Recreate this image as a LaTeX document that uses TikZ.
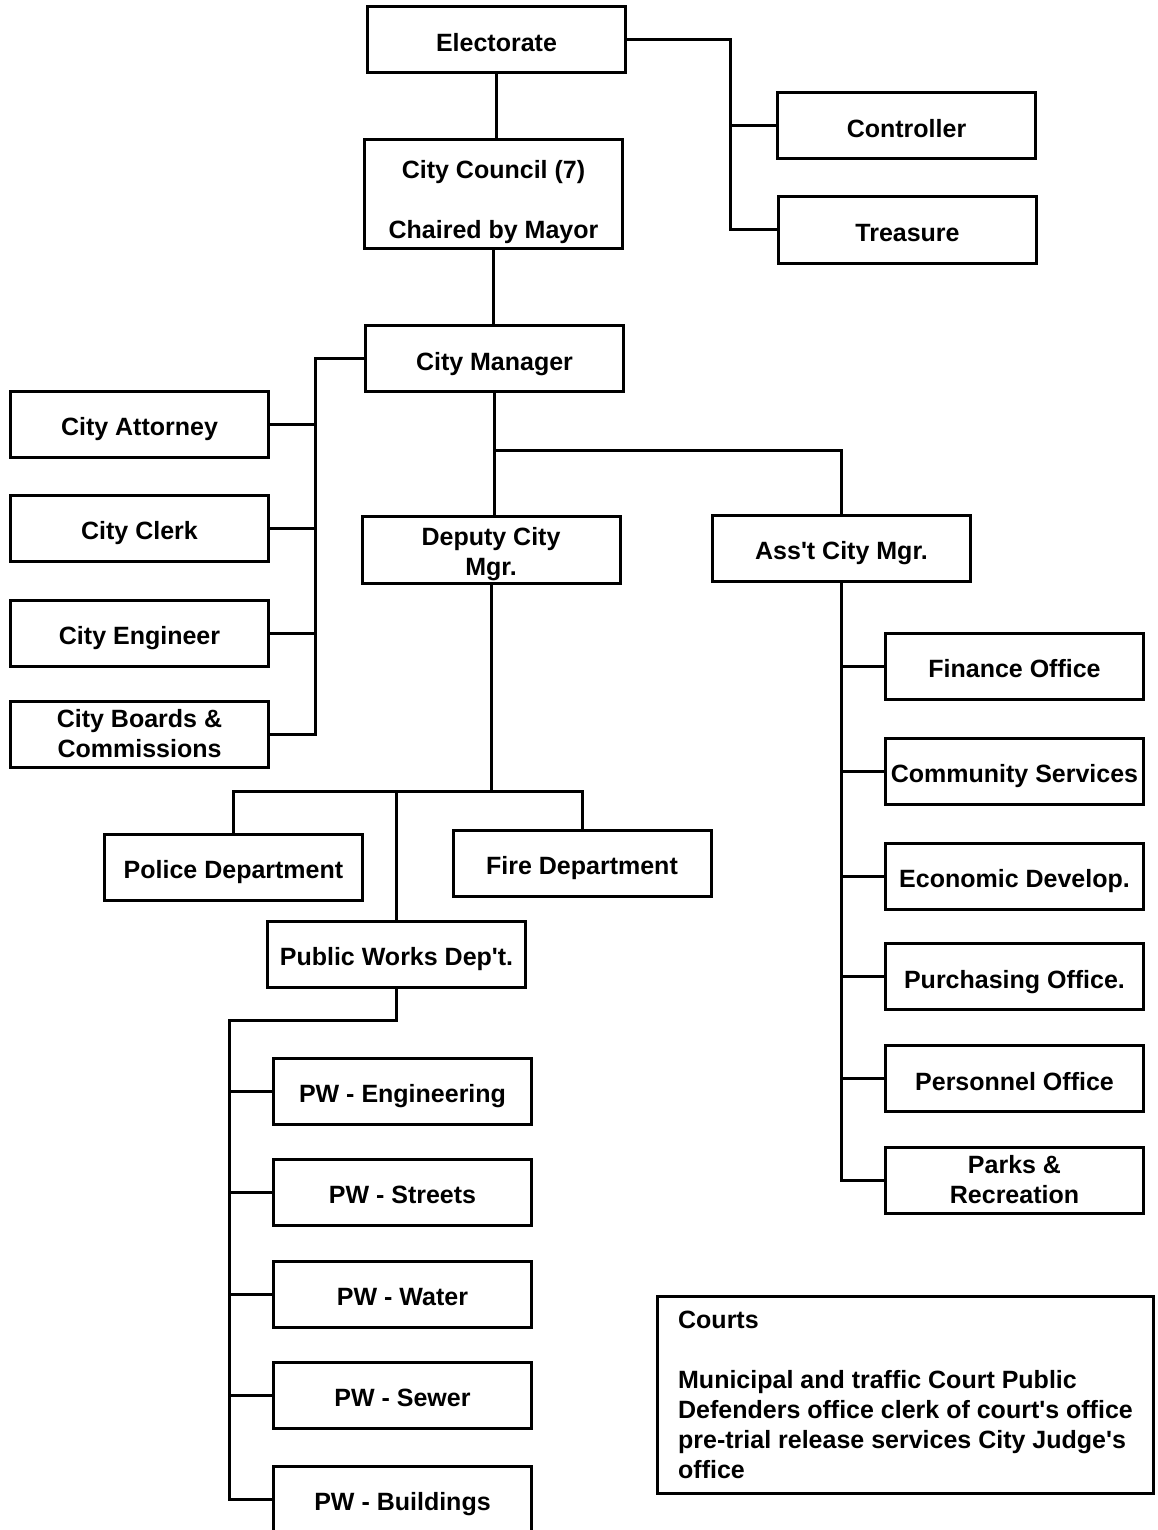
\documentclass[tikz,border=0pt]{standalone}
\usepackage{fontspec}
\setmainfont{Liberation Sans}[Ligatures=TeXOff]
\begin{document}
\begin{tikzpicture}[x=0.5pt,y=-0.5pt,line width=1.5pt,
	orgbox/.style={draw,line width=1.5pt,minimum width=129pt,minimum height=33pt,inner sep=1pt,align=center,font=\bfseries\fontsize{12.5}{15}\selectfont},
	unit/.style={orgbox,text height=11.5pt,text depth=0pt}]
	\useasboundingbox (0,0) rectangle (1157,1530);
	\clip (0,0) rectangle (1157,1530);

	\begin{scope}
		\node[unit] (elect) at (496.5,40) {Electorate};
		\node[unit] (ctrl) at (906.5,126) {Controller};
		\node[unit] (treas) at (907.5,230) {Treasure};
		\node[orgbox,minimum height=54.5pt] (council) at (493.5,194) {\rule{0pt}{17pt}City Council (7)\\[15pt]Chaired by Mayor};
		\node[unit] (mgr) at (494.5,358.5) {City Manager};
	\end{scope}

	\begin{scope}
		\node[unit] (attorney) at (139.5,424) {City Attorney};
		\node[unit] (clerk) at (139.5,528) {City Clerk};
		\node[unit] (engineer) at (139.5,633) {City Engineer};
		\node[orgbox] (boards) at (139.5,734) {City Boards \&\\Commissions};
	\end{scope}

	\begin{scope}
		\node[orgbox] (deputy) at (491,550) {\rule{0pt}{13.5pt}Deputy City\\Mgr.};
		\node[unit] (asst) at (841.5,548) {Ass't City Mgr.};
		\node[unit] (police) at (233.5,867) {Police Department};
		\node[unit] (fire) at (582,863) {Fire Department};
		\node[unit] (pw) at (396.5,954) {Public Works Dep't.};
	\end{scope}

	\begin{scope}
		\node[unit] (pweng) at (402.5,1091) {PW - Engineering};
		\node[unit] (pwstr) at (402.5,1192) {PW - Streets};
		\node[unit] (pwwat) at (402.5,1294) {PW - Water};
		\node[unit] (pwsew) at (402.5,1395) {PW - Sewer};
		\node[unit] (pwbld) at (402.5,1499) {PW - Buildings};
	\end{scope}

	\begin{scope}
		\node[unit] (finance) at (1014.5,666) {Finance Office};
		\node[unit] (commserv) at (1014.5,771) {Community Services};
		\node[unit] (econ) at (1014.5,876) {Economic Develop.};
		\node[unit] (purch) at (1014.5,976.5) {Purchasing Office.};
		\node[unit] (personnel) at (1014.5,1078.5) {Personnel Office};
		\node[orgbox] (parks) at (1014.5,1180) {Parks \&\\Recreation};
	\end{scope}

	\node[orgbox,align=left,minimum width=248pt,minimum height=98.5pt] (courts) at (905.5,1395)
		{Courts\\[15pt]Municipal and traffic Court Public\\Defenders office clerk of court's office\\pre-trial release services City Judge's\\office};

	\coordinate (etrunk) at (730,0);
	\coordinate (mtrunk) at (315,0);
	\coordinate (msplit) at (0,450);
	\coordinate (dsplit) at (0,791);
	\coordinate (ptrunk) at (229,1020);

	\begin{scope}
		\draw (elect.south) -- (elect.south |- council.north);
		\draw (elect.east) -| (etrunk |- treas.west) -- (treas.west);
		\draw (ctrl.west) -- (etrunk |- ctrl.west);
		\draw (council.south) -- (council.south |- mgr.north);

		\draw (mgr.west) -| (mtrunk |- boards.east) -- (boards.east);
		\foreach \n in {attorney,clerk,engineer}
			\draw (\n.east) -- (mtrunk |- \n.east);

		\draw (mgr.south) -- (mgr.south |- deputy.north);
		\draw (mgr.south |- msplit) -| (asst.north);

		\draw (deputy.south) -- (deputy.south |- dsplit);
		\draw (police.north) |- (fire.north |- dsplit) -- (fire.north);
		\draw (pw.north) -- (pw.north |- dsplit);

		\draw (pw.south) |- (ptrunk) -- (ptrunk |- pwbld.west) -- (pwbld.west);
		\foreach \n in {pweng,pwstr,pwwat,pwsew}
			\draw (\n.west) -- (ptrunk |- \n.west);

		\draw (asst.south) -- (asst.south |- parks.west) -- (parks.west);
		\foreach \n in {finance,commserv,econ,purch,personnel}
			\draw (\n.west) -- (asst.south |- \n.west);
	\end{scope}
\end{tikzpicture}
\end{document}
